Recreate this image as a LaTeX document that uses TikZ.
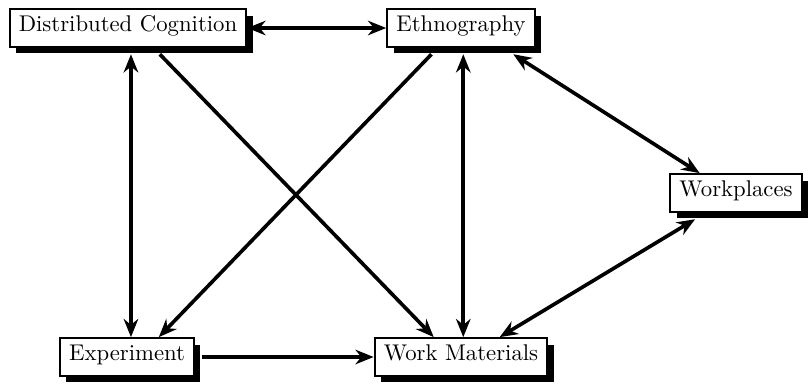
\documentclass[tikz,border=0pt]{standalone}
\usetikzlibrary{arrows.meta,shadows}

\tikzset{
  box/.style={draw, line width=1pt, fill=white, inner xsep=4pt,
    text height=7pt, text depth=3.5pt, inner ysep=3pt,
    drop shadow={shadow xshift=2.8pt, shadow yshift=-2.8pt, fill=black, opacity=1}},
  >={Stealth[length=8pt,width=6.4pt,inset=2.6pt]},
  link/.style={line width=1.6pt, ->},
  both/.style={line width=1.6pt, <->}
}

\begin{document}
\begin{tikzpicture}[x=0.44pt,y=-0.44pt]
\path[use as bounding box] (0,0) rectangle (808,386);

% boxes
\node[box] (dc)  at (128,28)  {Distributed Cognition};
\node[box] (eth) at (461,28)  {Ethnography};
\node[box] (wp)  at (736,193) {Workplaces};
\node[box] (exp) at (127,357) {Experiment};
\node[box] (wm)  at (461,357) {Work Materials};

% links
\draw[both] (dc.east) -- (eth.west);
\draw[both] ([xshift=1.3pt,yshift=-2.8pt]dc.south) -- ([xshift=1.3pt]dc.south |- exp.north);
\draw[link] ([xshift=14pt,yshift=-2.8pt]dc.south) -- ([xshift=-12pt]wm.north);
\draw[link] ([xshift=-13pt,yshift=-2.8pt]eth.south) -- ([xshift=14pt]exp.north);
\draw[both] ([xshift=1pt,yshift=-2.8pt]eth.south) -- ([xshift=1pt]eth.south |- wm.north);
\draw[both] ([xshift=23pt,yshift=-2.8pt]eth.south) -- ([xshift=-16pt]wp.north);
\draw[both] ([xshift=-18pt,yshift=-2.8pt]wp.south) -- ([xshift=17pt]wm.north);
\draw[link] ([xshift=2.8pt]exp.east) -- (exp.east -| wm.west);
\end{tikzpicture}
\end{document}
